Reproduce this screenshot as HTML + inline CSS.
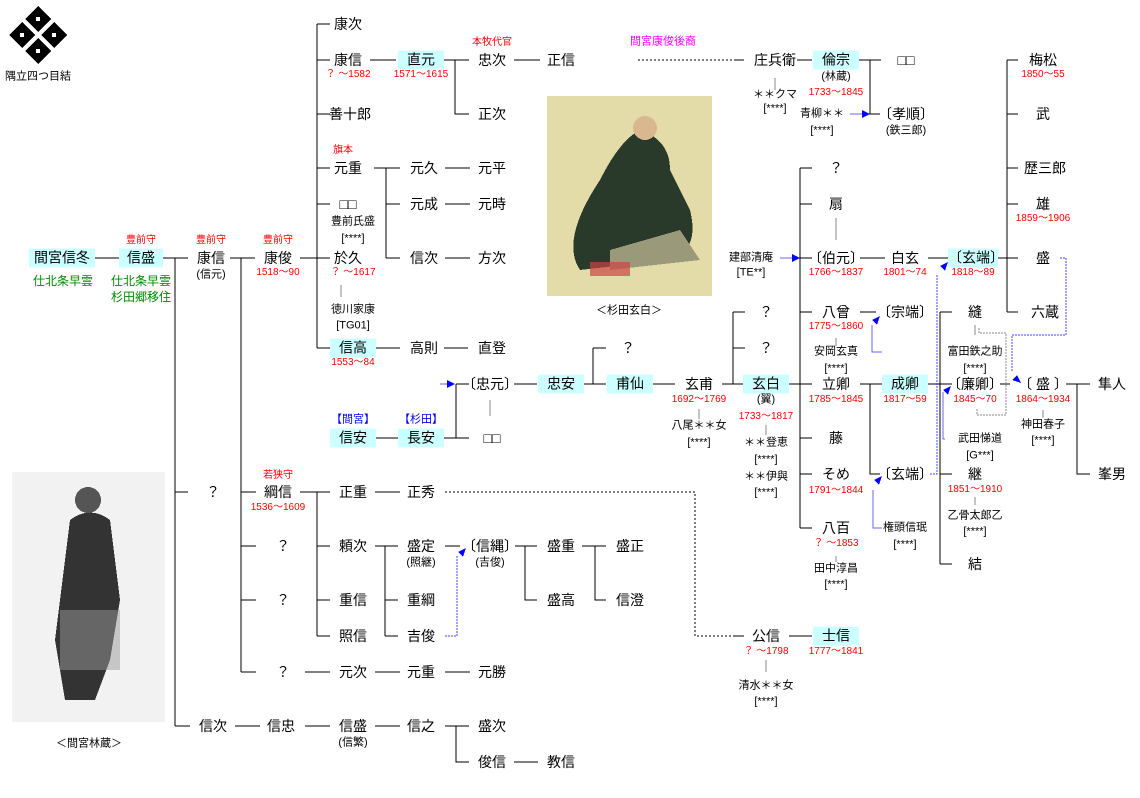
<!DOCTYPE html>
<html><head><meta charset="utf-8">
<style>
body{margin:0;background:#fff;}
#c{position:relative;width:1140px;height:798px;overflow:hidden;font-family:"Liberation Sans","Noto Sans CJK JP",sans-serif;}
.t{position:absolute;transform:translate(-50%,-50%);white-space:nowrap;font-size:14px;color:#000;line-height:1;}
.s{font-size:11px;}
.r{color:#f00;font-size:10px;}
.g{color:#080;font-size:12px;}
.b{color:#00f;font-size:11px;}
.h{background:#ccffff;width:46px;height:19px;line-height:19px;text-align:center;}
svg{position:absolute;left:0;top:0;}
</style></head><body><div id="c">
<svg width="1140" height="798" shape-rendering="crispEdges">
<g stroke="#000" stroke-width="1" fill="none">
<path d="M93 258H121M163 258H188M175 258V726M175 492H188M175 726H190M230 258H255M241 258V672M241 492H256M241 546H256M241 600H256M241 672H256"/>
<path d="M300 258H330M317 24V348M317 24H330M317 60H330M317 114H330M317 168H330M317 204H330M317 258H330M317 348H330"/>
<path d="M370 60H396M444 60H469M455 60V114H469M514 60H540M735 60H744"/>
<path d="M374 168H400M386 168V258M386 204H400M386 258H400M445 168H470M445 204H470M445 258H470"/>
<path d="M376 348H400M444 348H468"/>
<path d="M456 384V438M456 384H469M456 438H469M376 438H400M444 438H456M514 384H537M582 384H606M593 348V384M593 348H606M653 384H675"/>
<path d="M722 384H745M733 312V384M733 312H745M733 348H745M789 384H812M800 168V528M800 168H812M800 204H812M800 258H812M800 312H812M800 438H812M800 474H812M800 528H812"/>
<path d="M860 258H885M928 258H948M997 258H1018M1007 60V312M1007 60H1018M1007 114H1018M1007 168H1018M1007 204H1018M1007 312H1018"/>
<path d="M860 312H876M860 384H882M870 384V474H880M928 384H952M940 312V564M940 312H952M940 474H952M940 564H952M1000 384H1010M1066 384H1090M1077 384V474H1090"/>
<path d="M797 60H812M859 60H881M870 60V114H880"/>
<path d="M300 492H330M317 492V636M317 546H330M317 600H330M317 636H330M375 492H400M375 546H398M385 546V636M385 600H398M385 636H398M445 546H460M515 546H537M525 546V600H537M582 546H606M595 546V600H606M789 636H812M735 636H744"/>
<path d="M305 672H330M375 672H400M445 672H470M235 726H260M305 726H330M375 726H400M445 726H469M456 726V762H469M514 762H538"/>
</g>
<g stroke="#888" stroke-width="1">
<path d="M775 78V90M490 400V416M699 409V419M766 425V435M836 218V240M836 338V346M836 556V562M1043 410V418M975 497V505M766 660V672M341 285V297M975 325V335"/>
</g>
<g stroke="#000" stroke-dasharray="2,2" fill="none">
<path d="M638 60H735M445 492H695V636H735"/>
</g>
<path d="M979 328V333H1006V415H977V408" stroke="#888" fill="none" stroke-dasharray="2,1"/>
<g stroke="#44f" fill="none" stroke-dasharray="2,1">
<path d="M445 636H457V556"/><path d="M930 474H937V275"/><path d="M1060 258H1066V335H1012V372"/>
</g>
<g stroke="#66f" fill="none">
<path d="M440 384H450M780 258H792M850 114H862M882 352H872V325M882 528H873V490M945 439H943V392"/>
</g>
<g fill="#00f">
<path d="M455 384l-8-4v8z"/><path d="M800 258l-8-4v8z"/><path d="M870 114l-8-4v8z"/>
<path d="M880 316l-8 4 5 5z"/><path d="M882 476l-8 4 5 5z"/><path d="M951 386l-8 4 5 5z"/>
<path d="M948 262l-8 4 5 5z"/><path d="M466 548l-8 4 5 5z"/><path d="M1021 383l-4-8-5 5z"/>
</g>
<g fill="#000"><path d="M38 6l13 13-13 13-13-13z"/><path d="M22 22l13 13-13 13-13-13z"/><path d="M54 22l13 13-13 13-13-13z"/><path d="M38 38l13 13-13 13-13-13z"/></g>
<g fill="#fff"><rect x="36" y="17" width="4" height="4"/><rect x="20" y="33" width="4" height="4"/><rect x="52" y="33" width="4" height="4"/><rect x="36" y="49" width="4" height="4"/></g>
<rect x="547" y="96" width="165" height="200" fill="#e3dba8"/>
<path d="M600 180 q20-40 40-50 q30 10 30 40 l20 40 q10 40-20 50 l-90 10 q-20-30 20-90z" fill="#2a3a2a"/>
<path d="M610 250 l70-20 20 30-90 10z" fill="#9a9a7a"/>
<circle cx="645" cy="128" r="12" fill="#d9b890"/>
<rect x="590" y="262" width="40" height="14" fill="#c44" opacity=".7"/>
<rect x="12" y="472" width="153" height="250" fill="#f2f2f2"/>
<path d="M70 520 q20-15 40 0 l10 80 -10 60 -15 40 -30 0 -10-60 z" fill="#333"/>
<circle cx="88" cy="500" r="13" fill="#555"/>
<path d="M60 610 h60 v60 h-60z" fill="#999" opacity=".5"/>
</svg>
<div class="t s" style="left:38px;top:77px">隅立四つ目結</div>
<div class="t s" style="left:89px;top:744px">＜間宮林蔵＞</div>
<div class="t s" style="left:629px;top:311px">＜杉田玄白＞</div>

<div class="t h" style="left:62px;top:258px;width:66px">間宮信冬</div>
<div class="t g" style="left:63px;top:281px">仕北条早雲</div>
<div class="t h" style="left:141px;top:258px;width:44px">信盛</div>
<div class="t g" style="left:141px;top:281px">仕北条早雲</div>
<div class="t g" style="left:141px;top:297px">杉田郷移住</div>
<div class="t r" style="left:141px;top:241px">豊前守</div>
<div class="t r" style="left:211px;top:241px">豊前守</div>
<div class="t r" style="left:278px;top:241px">豊前守</div>
<div class="t" style="left:211px;top:258px">康信</div>
<div class="t s" style="left:211px;top:275px">(信元)</div>
<div class="t" style="left:278px;top:258px">康俊</div>
<div class="t r" style="left:278px;top:273px">1518～90</div>

<div class="t" style="left:348px;top:24px">康次</div>
<div class="t" style="left:348px;top:60px">康信</div>
<div class="t r" style="left:348px;top:75px">？ ～1582</div>
<div class="t h" style="left:421px;top:60px">直元</div>
<div class="t r" style="left:421px;top:75px">1571～1615</div>
<div class="t r" style="left:492px;top:43px">本牧代官</div>
<div class="t" style="left:492px;top:60px">忠次</div>
<div class="t" style="left:492px;top:114px">正次</div>
<div class="t" style="left:561px;top:60px">正信</div>
<div class="t" style="left:663px;top:42px;color:#f0f;font-size:11px">間宮康俊後裔</div>
<div class="t" style="left:350px;top:114px">善十郎</div>
<div class="t r" style="left:343px;top:151px">旗本</div>
<div class="t" style="left:348px;top:168px">元重</div>
<div class="t" style="left:348px;top:204px">□□</div>
<div class="t s" style="left:353px;top:222px">豊前氏盛</div>
<div class="t s" style="left:353px;top:239px">[****]</div>
<div class="t" style="left:348px;top:258px">於久</div>
<div class="t r" style="left:353px;top:273px">？ ～1617</div>
<div class="t s" style="left:353px;top:310px">徳川家康</div>
<div class="t s" style="left:353px;top:326px">[TG01]</div>
<div class="t h" style="left:353px;top:348px">信高</div>
<div class="t r" style="left:353px;top:363px">1553～84</div>
<div class="t" style="left:424px;top:168px">元久</div>
<div class="t" style="left:424px;top:204px">元成</div>
<div class="t" style="left:424px;top:258px">信次</div>
<div class="t" style="left:492px;top:168px">元平</div>
<div class="t" style="left:492px;top:204px">元時</div>
<div class="t" style="left:492px;top:258px">方次</div>
<div class="t" style="left:424px;top:348px">高則</div>
<div class="t" style="left:492px;top:348px">直登</div>

<div class="t" style="left:490px;top:384px">〔忠元〕</div>
<div class="t" style="left:492px;top:438px">□□</div>
<div class="t b" style="left:353px;top:420px">【間宮】</div>
<div class="t h" style="left:353px;top:438px">信安</div>
<div class="t b" style="left:421px;top:420px">【杉田】</div>
<div class="t h" style="left:421px;top:438px">長安</div>
<div class="t h" style="left:561px;top:384px">忠安</div>
<div class="t" style="left:628px;top:348px">？</div>
<div class="t h" style="left:630px;top:384px">甫仙</div>
<div class="t" style="left:699px;top:384px">玄甫</div>
<div class="t r" style="left:699px;top:400px">1692～1769</div>
<div class="t s" style="left:699px;top:426px">八尾＊＊女</div>
<div class="t s" style="left:699px;top:443px">[****]</div>
<div class="t" style="left:766px;top:312px">？</div>
<div class="t" style="left:766px;top:348px">？</div>
<div class="t h" style="left:766px;top:384px">玄白</div>
<div class="t s" style="left:766px;top:400px">(翼)</div>
<div class="t r" style="left:766px;top:417px">1733～1817</div>
<div class="t s" style="left:766px;top:443px">＊＊登恵</div>
<div class="t s" style="left:766px;top:460px">[****]</div>
<div class="t s" style="left:766px;top:477px">＊＊伊與</div>
<div class="t s" style="left:766px;top:493px">[****]</div>

<div class="t" style="left:775px;top:60px">庄兵衛</div>
<div class="t s" style="left:775px;top:95px">＊＊クマ</div>
<div class="t s" style="left:775px;top:109px">[****]</div>
<div class="t h" style="left:836px;top:60px">倫宗</div>
<div class="t s" style="left:836px;top:77px">(林蔵)</div>
<div class="t r" style="left:836px;top:93px">1733～1845</div>
<div class="t s" style="left:822px;top:114px">青柳＊＊</div>
<div class="t s" style="left:822px;top:131px">[****]</div>
<div class="t" style="left:906px;top:60px">□□</div>
<div class="t" style="left:906px;top:114px">〔孝順〕</div>
<div class="t s" style="left:906px;top:131px">(鉄三郎)</div>

<div class="t" style="left:836px;top:168px">？</div>
<div class="t" style="left:836px;top:204px">扇</div>
<div class="t s" style="left:751px;top:258px">建部清庵</div>
<div class="t s" style="left:751px;top:273px">[TE**]</div>
<div class="t" style="left:836px;top:258px">〔伯元〕</div>
<div class="t r" style="left:836px;top:273px">1766～1837</div>
<div class="t" style="left:836px;top:312px">八曾</div>
<div class="t r" style="left:836px;top:327px">1775～1860</div>
<div class="t s" style="left:836px;top:352px">安岡玄真</div>
<div class="t s" style="left:836px;top:369px">[****]</div>
<div class="t" style="left:836px;top:384px">立卿</div>
<div class="t r" style="left:836px;top:400px">1785～1845</div>
<div class="t" style="left:836px;top:438px">藤</div>
<div class="t" style="left:836px;top:474px">そめ</div>
<div class="t r" style="left:836px;top:491px">1791～1844</div>
<div class="t" style="left:836px;top:528px">八百</div>
<div class="t r" style="left:836px;top:544px">？ ～1853</div>
<div class="t s" style="left:836px;top:569px">田中淳昌</div>
<div class="t s" style="left:836px;top:585px">[****]</div>

<div class="t" style="left:905px;top:258px">白玄</div>
<div class="t r" style="left:905px;top:273px">1801～74</div>
<div class="t h" style="left:973px;top:258px;width:50px">〔玄端〕</div>
<div class="t r" style="left:973px;top:273px">1818～89</div>
<div class="t" style="left:905px;top:312px">〔宗端〕</div>
<div class="t h" style="left:905px;top:384px">成卿</div>
<div class="t r" style="left:905px;top:400px">1817～59</div>
<div class="t" style="left:905px;top:474px">〔玄端〕</div>
<div class="t s" style="left:905px;top:528px">権頭信珉</div>
<div class="t s" style="left:905px;top:545px">[****]</div>

<div class="t" style="left:975px;top:312px">縫</div>
<div class="t s" style="left:975px;top:352px">富田鉄之助</div>
<div class="t s" style="left:975px;top:369px">[****]</div>
<div class="t" style="left:975px;top:384px">〔廉卿〕</div>
<div class="t r" style="left:975px;top:400px">1845～70</div>
<div class="t s" style="left:980px;top:439px">武田悌道</div>
<div class="t s" style="left:980px;top:456px">[G***]</div>
<div class="t" style="left:975px;top:474px">継</div>
<div class="t r" style="left:975px;top:490px">1851～1910</div>
<div class="t s" style="left:975px;top:516px">乙骨太郎乙</div>
<div class="t s" style="left:975px;top:532px">[****]</div>
<div class="t" style="left:975px;top:564px">結</div>

<div class="t" style="left:1043px;top:60px">梅松</div>
<div class="t r" style="left:1043px;top:75px">1850～55</div>
<div class="t" style="left:1043px;top:114px">武</div>
<div class="t" style="left:1045px;top:168px">歴三郎</div>
<div class="t" style="left:1043px;top:204px">雄</div>
<div class="t r" style="left:1043px;top:219px">1859～1906</div>
<div class="t" style="left:1043px;top:258px">盛</div>
<div class="t" style="left:1045px;top:312px">六蔵</div>
<div class="t" style="left:1043px;top:384px">〔 盛 〕</div>
<div class="t r" style="left:1043px;top:400px">1864～1934</div>
<div class="t s" style="left:1043px;top:425px">神田春子</div>
<div class="t s" style="left:1043px;top:441px">[****]</div>
<div class="t" style="left:1112px;top:384px">隼人</div>
<div class="t" style="left:1112px;top:474px">峯男</div>

<div class="t" style="left:213px;top:492px">？</div>
<div class="t r" style="left:278px;top:476px">若狭守</div>
<div class="t" style="left:278px;top:492px">綱信</div>
<div class="t r" style="left:278px;top:508px">1536～1609</div>
<div class="t" style="left:283px;top:546px">？</div>
<div class="t" style="left:283px;top:600px">？</div>
<div class="t" style="left:283px;top:672px">？</div>
<div class="t" style="left:353px;top:492px">正重</div>
<div class="t" style="left:421px;top:492px">正秀</div>
<div class="t" style="left:353px;top:546px">頼次</div>
<div class="t" style="left:353px;top:600px">重信</div>
<div class="t" style="left:353px;top:636px">照信</div>
<div class="t" style="left:421px;top:546px">盛定</div>
<div class="t s" style="left:421px;top:563px">(照継)</div>
<div class="t" style="left:421px;top:600px">重綱</div>
<div class="t" style="left:421px;top:636px">吉俊</div>
<div class="t" style="left:490px;top:546px">〔信縄〕</div>
<div class="t s" style="left:490px;top:563px">(吉俊)</div>
<div class="t" style="left:561px;top:546px">盛重</div>
<div class="t" style="left:561px;top:600px">盛高</div>
<div class="t" style="left:630px;top:546px">盛正</div>
<div class="t" style="left:630px;top:600px">信澄</div>
<div class="t" style="left:766px;top:636px">公信</div>
<div class="t r" style="left:766px;top:652px">？ ～1798</div>
<div class="t s" style="left:766px;top:686px">清水＊＊女</div>
<div class="t s" style="left:766px;top:702px">[****]</div>
<div class="t h" style="left:836px;top:636px">士信</div>
<div class="t r" style="left:836px;top:652px">1777～1841</div>
<div class="t" style="left:353px;top:672px">元次</div>
<div class="t" style="left:421px;top:672px">元重</div>
<div class="t" style="left:492px;top:672px">元勝</div>
<div class="t" style="left:213px;top:726px">信次</div>
<div class="t" style="left:281px;top:726px">信忠</div>
<div class="t" style="left:353px;top:726px">信盛</div>
<div class="t s" style="left:353px;top:743px">(信繁)</div>
<div class="t" style="left:421px;top:726px">信之</div>
<div class="t" style="left:492px;top:726px">盛次</div>
<div class="t" style="left:492px;top:762px">俊信</div>
<div class="t" style="left:561px;top:762px">教信</div>
</div></body></html>
